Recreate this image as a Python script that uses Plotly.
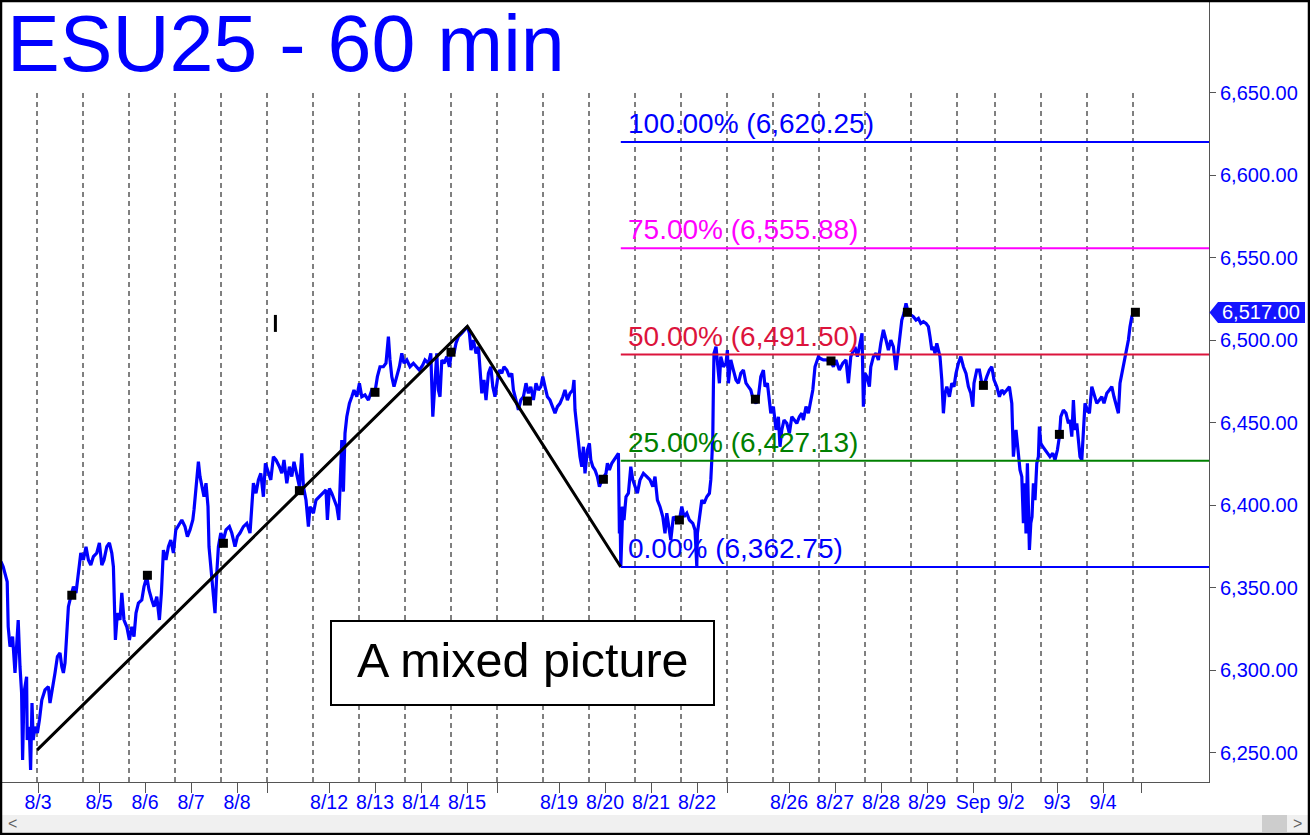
import plotly.graph_objects as go

# ---------------- data ----------------
# hourly bar index (0 = start of the 8/3 evening session), price
bar_idx = [
    -18, -16.9, -14.9, -14.4, -13.5, -12.2, -11, -10.2, -9.4, -8.5, -7.7, -7.2, -6.5, -5.2, -4.9, -3.9, -3.2, -2.5, -1.9, -1,
    0.2, 1.2, 2.4, 4, 5.7, 6.5, 7.9, 9, 10.2, 11.5, 12.4, 13.2, 14, 14.9, 15.7, 16.9, 18.2, 19.5, 20.7, 21.9,
    23.2, 24.5, 25.7, 26.9, 28.2, 29.9, 31.2, 32.4, 33.5, 34.9, 36.2, 37.4, 38.2, 39.2, 40.2, 41.5, 42.4, 43.5, 44.9, 46.2,
    47.4, 48.5, 49.5, 50.7, 52.4, 53.5, 54.9, 56, 57.4, 58.5, 59.9, 61.2, 62.2, 63.2, 64.5, 65.7, 66.9, 68.2, 69.4, 70.7,
    72.4, 74, 75.2, 76.5, 77.9, 78.5, 79.5, 80.7, 81.5, 82.7, 83.5, 84.5, 85.5, 86, 86.9, 87.9, 89, 89.9, 90.7, 91.9,
    93.2, 94.5, 96.2, 97.4, 99, 100.2, 101.5, 103.2, 104.9, 106.5, 107.4, 108.2, 109.5, 110.7, 111.9, 113.2, 114.2, 115.7, 116.9, 118.2,
    119.5, 121.2, 122.4, 123.5, 124.9, 126.2, 127.4, 128.5, 129.9, 131.2, 132.4, 133.2, 134.5, 135.7, 136.5, 138.2, 139.5, 141.2, 142.9, 144.5,
    145.2, 146.2, 147.4, 148.5, 149.9, 150.9, 151.5, 152.4, 153.2, 154, 154.9, 156.2, 157.4, 158.5, 159.9, 161.2, 162.4, 164, 165.7, 167.4,
    169, 170.2, 171.5, 173.2, 174.5, 175.7, 176.5, 177.4, 178.5, 179.9, 181.2, 182.4, 183.5, 184.9, 186.5, 188.2, 189.9, 191.2, 192.9, 194,
    195.7, 196.9, 197.9, 199, 199.9, 200.7, 201.5, 202.4, 203.5, 204.9, 206.2, 207.4, 208.5, 209.5, 210.7, 212.4, 214, 215.2, 216.2, 217,
    218.2, 219.5, 220.7, 221.5, 222.4, 223.5, 224.5, 225.7, 226.9, 227.9, 229, 230.2, 231.2, 232.4, 233.5, 234.9, 236.2, 237.4, 238.2, 239.5,
    240.7, 241.9, 243.2, 244.5, 245.7, 246.9, 248.2, 249.5, 250.7, 251.9, 252.9, 254, 255.2, 256.5, 257.9, 259, 260.2, 261.5, 262.9, 264,
    265.2, 266.5, 267.9, 268.5, 269, 269.9, 270.7, 271.5, 272.4, 273.2, 274, 275.2, 276.2, 276.9, 277.9, 279, 280.2, 281.2, 282.4, 283.5,
    284.5, 285.2, 286.2, 287.4, 288.5, 289.9, 290.7, 291.2, 291.5, 291.9, 292.4, 292.9, 293.5, 294.5, 295.7, 296.9, 297.9, 299, 300.2, 301.5,
    303.2, 304.9, 306.5, 307.9, 309, 310.2, 311.5, 312.9, 314, 314.9, 315.7, 316.9, 318.2, 319.5, 321.2, 322.4, 323.5, 324.9, 326.2, 327.9,
    329, 329.9, 330.2, 331.2, 332.4, 333.5, 334.9, 336.2, 336.9, 337.4, 337.9, 338.2, 338.5, 339.5, 340.2, 341.2, 341.9, 343.2, 344.5, 345.2,
    345.7, 346.9, 348.2, 349.5, 350.7, 351.9, 353.2, 354.5, 355.7, 356.9, 358.2, 359.5, 360.7, 361.9, 363.2, 364, 365.2, 366.2, 366.9, 368.2,
    369.5, 370.7, 371.5, 372.4, 373.5, 374.9, 376.2, 377.4, 378.5, 379.9, 381.2, 382.4, 383.2, 384.5, 385.7, 386.9, 387.9, 389, 390.7, 391.5,
    393.2, 394.9, 396.9, 398.2, 399.5, 401.2, 402.9, 404.5, 405.7, 406.9, 408.2, 409, 410.2, 411.5, 412.5, 413.2, 414, 414.9, 416.2, 416.9,
    418.2, 419.5, 420.7, 421.9, 423.2, 424.5, 425.7, 426.9, 428.2, 429.5, 430.2, 431.2, 432.4, 433.5, 434.5, 435.7, 436.9, 438.2, 439.5, 440.7,
    441.9, 443.2, 444.5, 445.7, 446.5, 447.4, 448.2, 449, 449.9, 450.7, 451.5, 452.4, 453.2, 454, 454.9, 456.2, 457.4, 458.5, 459.5, 460.7,
    461.9, 463.2, 464.5, 465.7, 466.9, 467.9, 468.5, 469.9, 471.2, 472.4, 473.5, 474.9, 476.2, 477.4, 478.5, 479.9, 481.2, 482.4, 483.5, 484.9,
    486.2, 487.4, 488.2, 489.5, 490.7, 491.5, 492.4, 493.2, 494, 494.5, 495.2, 495.7, 496.2, 496.9, 497.5, 498.2, 499, 499.9, 500.7, 501.2,
    501.9, 502.9, 504, 505.2, 506.5, 507.9, 509, 510.2, 511.2, 511.9, 513.2, 514.5, 515.7, 516.5, 517.4, 518.2, 519, 519.9, 520.7, 521.5,
    522.4, 523.2, 524, 525.2, 526.2, 527.4, 528.5, 529.9, 531.2, 532.4, 533.5, 534.9, 536.2, 537.4, 538.5, 539.5, 540.7, 541.5, 542.4, 543.2,
    544, 544.9, 545.7, 546.5, 547.4, 548.2,
]
price = [
    6365.9, 6362.9, 6353.8, 6326.5, 6314.4, 6320.5, 6298.5, 6318.5, 6330.6, 6302.3, 6286.4, 6245.8, 6286.4, 6296.2, 6257.9, 6265.9, 6239.7, 6280.3, 6257.9, 6265.9,
    6262.1, 6270.0, 6282.1, 6288.2, 6290.2, 6280.3, 6292.4, 6298.5, 6308.4, 6310.6, 6302.3, 6298.5, 6304.5, 6326.5, 6338.7, 6344.7, 6350.8, 6347.0, 6359.1, 6371.2,
    6367.0, 6375.0, 6367.0, 6363.9, 6369.0, 6371.2, 6377.3, 6363.9, 6367.0, 6375.0, 6377.3, 6371.2, 6362.9, 6318.5, 6334.8, 6330.6, 6347.0, 6330.6, 6326.5, 6318.5,
    6326.5, 6320.5, 6334.8, 6340.9, 6342.7, 6350.8, 6356.8, 6348.8, 6342.7, 6338.7, 6344.7, 6330.6, 6347.0, 6373.0, 6367.0, 6375.0, 6379.1, 6371.2, 6385.2, 6388.2,
    6391.2, 6387.2, 6381.1, 6385.2, 6391.2, 6397.3, 6409.4, 6426.5, 6417.5, 6411.4, 6405.3, 6413.5, 6399.3, 6375.0, 6362.9, 6347.0, 6334.8, 6359.1, 6375.0, 6383.3,
    6379.1, 6385.2, 6387.2, 6383.3, 6375.0, 6381.1, 6383.3, 6387.2, 6389.2, 6383.3, 6403.3, 6413.5, 6407.4, 6415.5, 6419.5, 6405.3, 6425.6, 6419.5, 6415.5, 6429.6,
    6427.6, 6423.5, 6419.5, 6427.6, 6413.5, 6423.5, 6417.5, 6426.5, 6417.5, 6411.4, 6431.6, 6411.4, 6403.3, 6387.2, 6399.3, 6395.3, 6403.3, 6405.3, 6407.4, 6409.4,
    6391.2, 6410.4, 6407.4, 6403.3, 6399.3, 6391.2, 6411.4, 6439.7, 6408.4, 6443.8, 6453.8, 6461.9, 6465.9, 6470.0, 6465.9, 6474.1, 6465.9, 6467.0, 6463.9, 6470.0,
    6469.0, 6478.1, 6484.1, 6484.1, 6486.2, 6502.3, 6488.2, 6478.1, 6472.0, 6478.1, 6484.1, 6492.2, 6486.2, 6488.2, 6484.1, 6486.2, 6484.1, 6482.1, 6485.2, 6488.2,
    6486.2, 6492.2, 6453.8, 6480.1, 6492.2, 6470.0, 6465.9, 6488.2, 6486.2, 6490.2, 6484.1, 6494.2, 6492.2, 6498.3, 6502.3, 6504.4, 6506.4, 6508.4, 6504.4, 6494.2,
    6500.3, 6492.2, 6496.2, 6484.1, 6468.0, 6476.1, 6463.9, 6480.1, 6484.1, 6472.0, 6465.9, 6476.1, 6482.1, 6480.1, 6484.1, 6482.1, 6478.1, 6480.1, 6470.0, 6463.9,
    6457.9, 6463.9, 6465.9, 6474.1, 6468.0, 6472.0, 6463.9, 6474.1, 6470.0, 6472.0, 6478.1, 6472.0, 6465.9, 6463.9, 6459.9, 6455.9, 6459.9, 6461.9, 6465.9, 6470.0,
    6463.9, 6468.0, 6470.0, 6476.1, 6457.9, 6447.8, 6437.7, 6429.6, 6423.5, 6435.6, 6419.5, 6433.6, 6437.7, 6427.6, 6423.5, 6421.5, 6417.5, 6411.4, 6415.5, 6417.5,
    6419.5, 6425.6, 6421.5, 6425.6, 6427.6, 6430.6, 6431.6, 6383.1, 6399.3, 6362.75, 6385.2, 6399.3, 6391.2, 6405.3, 6407.4, 6423.5, 6415.5, 6411.4, 6407.4, 6415.5,
    6419.5, 6417.5, 6415.5, 6411.4, 6417.5, 6403.3, 6399.3, 6393.2, 6383.1, 6395.3, 6387.2, 6379.1, 6393.2, 6391.2, 6391.2, 6399.3, 6393.2, 6395.3, 6391.2, 6389.2,
    6385.2, 6363.0, 6383.1, 6391.2, 6403.3, 6401.3, 6405.3, 6407.4, 6415.5, 6427.6, 6441.7, 6472.0, 6492.2, 6496.2, 6488.2, 6474.1, 6490.2, 6484.1, 6486.2, 6494.2,
    6474.1, 6488.2, 6482.1, 6476.1, 6474.1, 6480.1, 6482.1, 6474.1, 6472.0, 6470.0, 6463.9, 6461.9, 6465.9, 6478.1, 6482.1, 6472.0, 6474.1, 6463.9, 6455.9, 6459.9,
    6445.8, 6453.8, 6435.6, 6445.8, 6451.8, 6449.8, 6443.8, 6453.8, 6451.8, 6449.8, 6453.8, 6455.9, 6451.8, 6459.9, 6455.9, 6463.9, 6470.0, 6484.1, 6490.2, 6489.2,
    6488.2, 6488.2, 6487.2, 6484.1, 6488.2, 6482.1, 6486.2, 6488.2, 6474.1, 6490.2, 6494.2, 6496.2, 6490.2, 6498.3, 6504.4, 6459.9, 6480.1, 6478.1, 6472.0, 6484.1,
    6490.2, 6492.2, 6488.2, 6498.3, 6506.4, 6500.3, 6494.2, 6500.3, 6496.2, 6482.1, 6490.2, 6500.3, 6512.4, 6516.5, 6522.5, 6516.5, 6515.5, 6514.4, 6512.4, 6513.4,
    6510.4, 6511.4, 6510.4, 6508.4, 6502.3, 6494.2, 6496.2, 6492.2, 6498.3, 6494.2, 6490.2, 6476.1, 6455.9, 6468.0, 6472.0, 6465.9, 6474.1, 6472.0, 6480.1, 6486.2,
    6490.2, 6484.1, 6480.1, 6472.0, 6468.0, 6459.9, 6474.1, 6482.1, 6482.1, 6474.1, 6473.0, 6478.1, 6482.1, 6484.1, 6476.1, 6472.0, 6465.9, 6470.0, 6468.0, 6470.0,
    6472.0, 6461.9, 6429.6, 6445.8, 6433.6, 6421.5, 6417.5, 6389.2, 6413.5, 6383.1, 6425.6, 6399.3, 6373.0, 6389.2, 6393.2, 6413.5, 6403.3, 6425.6, 6429.6, 6447.8,
    6437.7, 6435.6, 6433.6, 6431.6, 6429.6, 6431.6, 6427.6, 6433.6, 6441.7, 6453.8, 6457.9, 6455.9, 6449.8, 6451.8, 6441.7, 6463.9, 6445.8, 6449.8, 6437.7, 6429.6,
    6427.6, 6449.8, 6461.9, 6457.9, 6455.9, 6472.0, 6468.0, 6461.9, 6463.9, 6465.9, 6461.9, 6468.0, 6470.0, 6472.0, 6465.9, 6461.9, 6455.9, 6474.1, 6480.1, 6484.1,
    6490.2, 6494.2, 6500.3, 6508.4, 6514.4, 6517.0,
]

marker_bar = [17.4, 55.2, 93.2, 131.2, 169, 207, 245.2, 283.2, 321.2, 359.2, 397, 435.2, 473.2, 511.2, 549.2]
marker_price = [6345.6, 6357.7, 6377.1, 6409.0, 6468.6, 6492.9, 6463.3, 6415.9, 6391.2, 6464.4,
                6487.6, 6517.1, 6472.8, 6443.1, 6517.1]

swing_bar = [0, 215.2, 291.9]
swing_price = [6251.75, 6508.5, 6362.75]

fib_pct = ["100.00%", "75.00%", "50.00%", "25.00%", "0.00%"]
fib_level = [6620.25, 6555.88, 6491.50, 6427.13, 6362.75]
fib_color = ["#0000ff", "#ff00ff", "#dc143c", "#008000", "#0000ff"]

session_start = [0, 23, 46, 69, 92, 115, 138, 161, 184, 207, 230, 253, 276, 299, 322,
                 345, 368, 391, 414, 437, 460, 479, 502, 525, 548]
tick_bar = [0.5, 31, 54, 77, 100, 115, 146, 169, 192, 215, 230, 261, 284, 307, 330,
            345, 376, 399, 422, 445, 468, 487, 510, 533, 552]
tick_text = ["8/3", "8/5", "8/6", "8/7", "8/8", "", "8/12", "8/13", "8/14", "8/15", "",
             "8/19", "8/20", "8/21", "8/22", "", "8/26", "8/27", "8/28", "8/29", "Sep",
             "9/2", "9/3", "9/4", ""]
y_ticks = [6250, 6300, 6350, 6400, 6450, 6500, 6550, 6600, 6650]
last_price = 6517.00
tick_mark_bar = 119.2
tick_mark_price = [6505.2, 6515.5]

note_text = "A mixed picture"
note_box_bar = [147, 338.5]
note_box_price = [6279.1, 6330.0]

# ---------------- layout constants ----------------
W, H = 1310, 835
ML, MR, MT, MB = 0, 101, 0, 53
PW, PH = W - ML - MR, H - MT - MB
X_RANGE = [-18.5, 586]
Y_RANGE = [6232.42, 6706.36]
FONT = "Liberation Sans, Arial, sans-serif"
BLUE = "#0000ff"


def px_x(px):
    return (px - ML) / PW


def px_y(py):
    return 1 - (py - MT) / PH


fig = go.Figure()

# price line
fig.add_trace(go.Scatter(x=bar_idx, y=price, mode="lines",
                         line=dict(color=BLUE, width=3.2), hoverinfo="skip"))
# swing trend lines
fig.add_trace(go.Scatter(x=swing_bar, y=swing_price, mode="lines",
                         line=dict(color="black", width=3), hoverinfo="skip"))
# small tick mark
fig.add_trace(go.Scatter(x=[tick_mark_bar, tick_mark_bar], y=tick_mark_price, mode="lines",
                         line=dict(color="black", width=3), hoverinfo="skip"))
# daily markers
fig.add_trace(go.Scatter(x=marker_bar, y=marker_price, mode="markers",
                         marker=dict(symbol="square", size=9, color="black"), hoverinfo="skip"))

shapes = []
# session separators
for s in session_start:
    shapes.append(dict(type="line", xref="x", yref="y", x0=s, x1=s, y0=6650, y1=Y_RANGE[0],
                       line=dict(color="#000000", width=1, dash="5px,4px"), layer="below"))
# fib lines
for lvl, col in zip(fib_level, fib_color):
    shapes.append(dict(type="line", xref="x", yref="y", x0=swing_bar[2], x1=X_RANGE[1], y0=lvl, y1=lvl,
                       line=dict(color=col, width=2)))

# note box
shapes.append(dict(type="rect", xref="x", yref="y", x0=note_box_bar[0], x1=note_box_bar[1],
                   y0=note_box_price[0], y1=note_box_price[1], fillcolor="white",
                   line=dict(color="black", width=2)))

# price tag (arrow + box) on right axis
half = 6.4
shapes.append(dict(type="path", xref="paper", yref="y",
                   path=f"M {px_x(1209.5)} {last_price} L {px_x(1218)} {last_price + half} "
                        f"L {px_x(1305)} {last_price + half} L {px_x(1305)} {last_price - half} "
                        f"L {px_x(1218)} {last_price - half} Z",
                   fillcolor="#1414ff", line=dict(width=0)))

# scrollbar
shapes.append(dict(type="rect", xref="paper", yref="paper", x0=px_x(2), x1=px_x(1308),
                   y0=px_y(832), y1=px_y(815), fillcolor="#f0f0f0", line=dict(width=0)))
shapes.append(dict(type="rect", xref="paper", yref="paper", x0=px_x(1262), x1=px_x(1287),
                   y0=px_y(832), y1=px_y(815), fillcolor="#cdcdcd", line=dict(width=0)))
# outer frame
shapes.append(dict(type="rect", xref="paper", yref="paper", x0=px_x(1), x1=px_x(1309),
                   y0=px_y(834), y1=px_y(1), line=dict(color="black", width=2.5)))

annotations = []
# title
annotations.append(dict(text="ESU25 - 60 min", xref="paper", yref="paper", x=px_x(5), y=px_y(44),
                        xanchor="left", yanchor="middle", showarrow=False,
                        font=dict(family=FONT, size=79, color=BLUE)))
# fib labels
for pct, lvl, col in zip(fib_pct, fib_level, fib_color):
    annotations.append(dict(text=f"{pct} ({lvl:,.2f})", xref="x", yref="y", x=swing_bar[2] + 2.5, y=lvl,
                            xanchor="left", yanchor="bottom", showarrow=False, yshift=1,
                            font=dict(family=FONT, size=28, color=col)))
# note text
annotations.append(dict(text=note_text, xref="x", yref="y",
                        x=(note_box_bar[0] + note_box_bar[1]) / 2,
                        y=(note_box_price[0] + note_box_price[1]) / 2,
                        xanchor="center", yanchor="middle", showarrow=False, yshift=3,
                        font=dict(family=FONT, size=48.5, color="black")))
# price tag text
annotations.append(dict(text=f"{last_price:,.2f}", xref="paper", yref="y", x=px_x(1261), y=last_price,
                        xanchor="center", yanchor="middle", showarrow=False,
                        font=dict(family=FONT, size=20, color="white")))
# scroll arrows
annotations.append(dict(text="<", xref="paper", yref="paper", x=px_x(12), y=px_y(823),
                        xanchor="center", yanchor="middle", showarrow=False,
                        font=dict(family=FONT, size=16, color="#606060")))
annotations.append(dict(text=">", xref="paper", yref="paper", x=px_x(1297), y=px_y(823),
                        xanchor="center", yanchor="middle", showarrow=False,
                        font=dict(family=FONT, size=16, color="#606060")))

fig.update_layout(
    width=W, height=H, autosize=False,
    margin=dict(l=ML, r=MR, t=MT, b=MB, pad=0),
    paper_bgcolor="white", plot_bgcolor="white",
    showlegend=False, hovermode=False,
    shapes=shapes, annotations=annotations,
    xaxis=dict(range=X_RANGE, showgrid=False, zeroline=False, tickmode="array",
               tickvals=tick_bar, ticktext=tick_text, ticks="outside", ticklen=10,
               ticklabelstandoff=-7,
               tickcolor="#555555", showline=True, linecolor="#555555", linewidth=1,
               tickfont=dict(family=FONT, size=19.5, color=BLUE), fixedrange=True),
    yaxis=dict(range=Y_RANGE, side="right", showgrid=False, zeroline=False, tickmode="array",
               tickvals=y_ticks, ticktext=[f"{v:,.2f}" for v in y_ticks], ticks="outside", ticklen=6,
               tickcolor="#555555", showline=True, linecolor="#555555", linewidth=1,
               tickfont=dict(family=FONT, size=20, color=BLUE), fixedrange=True),
)

fig.write_html("out.html", config={"displayModeBar": False},
               post_script="document.body.style.margin='0';document.body.style.overflow='hidden';")
